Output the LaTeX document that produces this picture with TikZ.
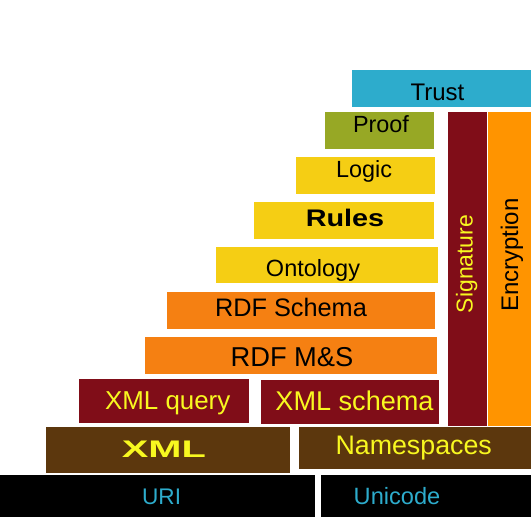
\documentclass[tikz,border=0pt]{standalone}
\usepackage{fontspec}
\setmainfont{Liberation Sans}
\definecolor{cTrust}{HTML}{2DACCC}
\definecolor{cProof}{HTML}{97A825}
\definecolor{cYel}{HTML}{F5CE14}
\definecolor{cRdf}{HTML}{F58012}
\definecolor{cRed}{HTML}{800D18}
\definecolor{cEnc}{HTML}{FF9400}
\definecolor{cBrown}{HTML}{5C370D}
\definecolor{cTxtY}{HTML}{F8F820}
\begin{document}
\begin{tikzpicture}[x=1bp,y=-1bp,
  box/.style={rectangle, draw=none, inner sep=0pt, outer sep=0pt},
  lbl/.style={inner sep=0pt, anchor=base, font=\fontsize{#1bp}{#1bp}\selectfont},
  blbl/.style={inner sep=0pt, anchor=base, font=\fontsize{#1bp}{#1bp}\selectfont\bfseries},
]
\useasboundingbox (0,0) rectangle (531,517);
% boxes: centre, width, height
\node[box, fill=cTrust, minimum width=179bp, minimum height=37bp] (trust) at (441.5,88.5) {};
\node[box, fill=cProof, minimum width=109bp, minimum height=37bp] (proof) at (379.5,130.5) {};
\node[box, fill=cYel, minimum width=139bp, minimum height=37bp] (logic) at (365.5,175.5) {};
\node[box, fill=cYel, minimum width=180bp, minimum height=37bp] (rules) at (344,220.5) {};
\node[box, fill=cYel, minimum width=222bp, minimum height=36bp] (onto) at (327,265) {};
\node[box, fill=cRdf, minimum width=268bp, minimum height=37bp] (rdfs) at (301,310.5) {};
\node[box, fill=cRdf, minimum width=292bp, minimum height=37bp] (rdfms) at (291,355.5) {};
\node[box, fill=cRed, minimum width=39bp, minimum height=314bp] (sig) at (467.5,269) {};
\node[box, fill=cEnc, minimum width=43bp, minimum height=314bp] (enc) at (509.5,269) {};
\node[box, fill=cRed, minimum width=170bp, minimum height=44bp] (xmlq) at (164,401) {};
\node[box, fill=cRed, minimum width=178bp, minimum height=44bp] (xmls) at (350,402) {};
\node[box, fill=cBrown, minimum width=244bp, minimum height=46bp] (xml) at (168,450) {};
\node[box, fill=cBrown, minimum width=232bp, minimum height=42bp] (ns) at (415,448) {};
\node[box, fill=black, minimum width=315bp, minimum height=42bp] (uri) at (157.5,496) {};
\node[box, fill=black, minimum width=210bp, minimum height=42bp] (uni) at (426,496) {};
% labels
\node[lbl=24] (trustT) at (437.5,100.7) {Trust};
\node[lbl=23.4] (proofT) at (381,133) {Proof};
\node[lbl=23.4] (logicT) at (364,178) {Logic};
\node[blbl=24, xscale=1.2] (rulesT) at (345,226.7) {Rules};
\node[lbl=23.5] (ontoT) at (313,276.7) {Ontology};
\node[lbl=25.3] (rdfsT) at (291,316.7) {RDF Schema};
\node[lbl=27.3] (rdfmsT) at (292,366.7) {RDF M\&S};
\node[lbl=25.9, text=cTxtY] (xmlqT) at (167.7,409) {XML query};
\node[lbl=27.1, text=cTxtY] (xmlsT) at (354.5,410) {XML schema};
\node[blbl=24, text=cTxtY, xscale=1.66] (xmlT) at (163.8,457.3) {XML};
\node[lbl=26.8, text=cTxtY] (nsT) at (413.7,454.7) {Namespaces};
\node[lbl=22.6, text=cTrust] (uriT) at (161.6,504.5) {URI};
\node[lbl=23.6, text=cTrust] (uniT) at (397,504.5) {Unicode};
\node[lbl=23, text=cTxtY, rotate=90] (sigT) at (472.5,264) {Signature};
\node[lbl=24, rotate=90] (encT) at (518,255) {Encryption};
\end{tikzpicture}
\end{document}
